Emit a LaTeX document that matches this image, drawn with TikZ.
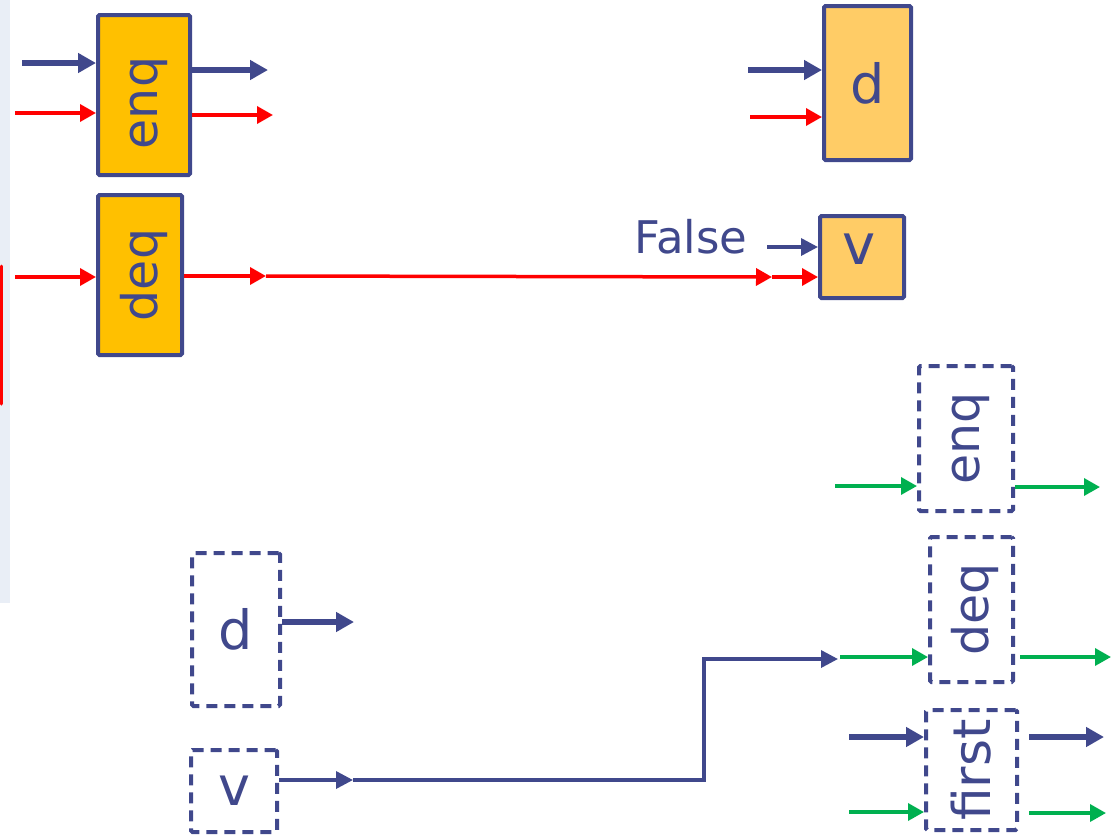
\documentclass[tikz,border=0pt]{standalone}
\usepackage{fontspec}
\setmainfont{DejaVu Sans}
\usetikzlibrary{arrows.meta}
\definecolor{navy}{RGB}{64,72,140}
\definecolor{qorange}{RGB}{255,192,0}
\definecolor{qlight}{RGB}{255,204,102}
\definecolor{qred}{RGB}{255,0,0}
\definecolor{qgreen}{RGB}{0,176,80}
\definecolor{strip}{RGB}{233,238,246}
\begin{document}
\begin{tikzpicture}[x=1pt,y=-1pt,
  solidbox/.style={draw=navy,line width=4pt,rounded corners=1.5pt,inner sep=0pt,text=navy},
  dashbox/.style={draw=navy,line width=4pt,dash pattern=on 11pt off 7pt,rounded corners=1.5pt,inner sep=0pt,text=navy},
  navyfat/.style={draw=navy,line width=5.5pt,-{Triangle[length=18pt,width=19pt]}},
  navythin/.style={draw=navy,line width=3.5pt,-{Triangle[length=17pt,width=17pt]}},
  redarr/.style={draw=qred,line width=3.5pt,-{Triangle[length=16pt,width=17pt]}},
  greenarr/.style={draw=qgreen,line width=3.5pt,-{Triangle[length=16pt,width=17pt]}},
  bigtxt/.style={font=\fontsize{49}{49}\selectfont},
  lettxt/.style={font=\fontsize{54}{54}\selectfont},
]
\useasboundingbox (0,0) rectangle (1120,836);
% left strip
\fill[strip] (0,0) rectangle (10,603);
\draw[qred,line width=3pt,line cap=round] (1.5,266) -- (1.5,404);

% solid boxes
\node[solidbox,fill=qorange,minimum width=92pt,minimum height=160pt,bigtxt] (enq) at (144,95) {\hspace{10pt}\rotatebox{90}{enq\hspace{16pt}}};
\node[solidbox,fill=qorange,minimum width=84pt,minimum height=160pt,bigtxt] (deq) at (140,275) {\hspace{8pt}\rotatebox{90}{deq}};
\node[solidbox,fill=qlight,minimum width=87pt,minimum height=154pt,lettxt] (dtop) at (867.5,83) {d};
\node[solidbox,fill=qlight,minimum width=84pt,minimum height=82pt,
      label={[text=navy,font=\fontsize{56}{56}\selectfont,yshift=8pt,xshift=-3pt]center:v}] (vtop) at (862,257) {};
\node[text=navy,font=\fontsize{45}{45}\selectfont,inner sep=0pt] (false) at (691,237) {False};

% dashed boxes
\node[dashbox,minimum width=94pt,minimum height=145pt,bigtxt] (denq) at (966,438.5) {\hspace{10pt}\rotatebox{90}{enq}};
\node[dashbox,minimum width=83pt,minimum height=145pt,bigtxt] (ddeq) at (971.5,609.5) {\hspace{6pt}\rotatebox{90}{deq}};
\node[dashbox,minimum width=91pt,minimum height=120pt,font=\fontsize{52}{52}\selectfont] (dfirst) at (971.5,770) {\rotatebox{90}{first}};
\node[dashbox,minimum width=88pt,minimum height=153pt,lettxt] (dd) at (236,629.5) {d};
\node[dashbox,minimum width=86pt,minimum height=82pt,lettxt] (dv) at (234,791) {v};

% enq (solid) arrows
\coordinate (eIn1) at (22,63);
\coordinate (eIn2) at (15,113);
\coordinate (eOut1) at (268,70);
\coordinate (eOut2) at (273,115);
\draw[navyfat] (eIn1) -- (enq.west |- eIn1);
\draw[redarr] (eIn2) -- (enq.west |- eIn2);
\draw[navyfat] (enq.east |- eOut1) -- (eOut1);
\draw[redarr] (enq.east |- eOut2) -- (eOut2);

% deq (solid) arrows
\coordinate (dIn) at (15,277);
\coordinate (dOut) at (266,276);
\coordinate (dMid) at (772,277);
\draw[redarr] (dIn) -- (deq.west |- dIn);
\draw[redarr] (deq.east |- dOut) -- (dOut);
\draw[redarr] (dOut) -- (dMid);
\draw[redarr] (dMid) -- (vtop.west |- dMid);

% top d and v inputs
\coordinate (tdIn1) at (748,70);
\coordinate (tdIn2) at (750,117);
\coordinate (fIn) at (767,247);
\draw[navyfat] (tdIn1) -- (dtop.west |- tdIn1);
\draw[redarr] (tdIn2) -- (dtop.west |- tdIn2);
\draw[navythin] (fIn) -- (vtop.west |- fIn);

% dashed enq
\coordinate (geIn) at (835,486);
\coordinate (geOut) at (1100,487);
\draw[greenarr] (geIn) -- (denq.west |- geIn);
\draw[greenarr] (denq.east |- geOut) -- (geOut);

% dashed deq
\coordinate (gdIn) at (840,657);
\coordinate (gdOutS) at (1020,657);
\coordinate (gdOut) at (1111,657);
\draw[greenarr] (gdIn) -- (ddeq.west |- gdIn);
\draw[greenarr] (gdOutS) -- (gdOut);

% dashed first
\coordinate (fIn1) at (849,737);
\coordinate (fIn2) at (849,812);
\coordinate (fOutS1) at (1029,737);
\coordinate (fOut1) at (1104,737);
\coordinate (fOutS2) at (1029,813);
\coordinate (fOut2) at (1106,813);
\draw[navyfat] (fIn1) -- (dfirst.west |- fIn1);
\draw[greenarr] (fIn2) -- (dfirst.west |- fIn2);
\draw[navyfat] (fOutS1) -- (fOut1);
\draw[greenarr] (fOutS2) -- (fOut2);

% dashed d and v
\coordinate (ddOut) at (354,622);
\draw[navyfat] (dd.east |- ddOut) -- (ddOut);
\coordinate (dvOut) at (353,780);
\coordinate (bend1) at (704,780);
\coordinate (bend2) at (704,659);
\coordinate (dvEnd) at (838,659);
\draw[navythin] (dv.east |- dvOut) -- (dvOut);
\draw[navythin] (dvOut) -- (bend1) -- (bend2) -- (dvEnd);
\end{tikzpicture}
\end{document}
